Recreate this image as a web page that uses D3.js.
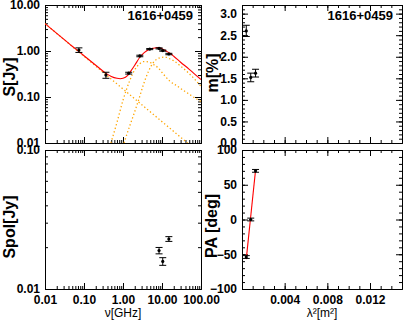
<!DOCTYPE html>
<html lang="en">
<head>
<meta charset="utf-8">
<script src="https://d3js.org/d3.v7.min.js"></script>
<style>
  body { margin: 0; background: #fff; }
  text { font-family: "Liberation Sans", Arial, Helvetica, sans-serif; }
</style>
</head>
<body>
<svg id="chart" width="407" height="323"></svg>
<script>
// ---- data ----
const source = "1616+0459";

// total flux density
const nuObs = [0.074, 0.365, 1.4, 2.7, 4.85, 8.4, 10.45, 15];
const sObs  = [1.05, 0.30, 0.33, 0.78, 1.10, 1.14, 1.02, 0.86];
const sErr  = [0.12, 0.045, 0.015, 0.03, 0.03, 0.03, 0.03, 0.03];

// fitted spectrum (red) and its components (orange dotted)
const fitNu = [0.01, 0.02, 0.05, 0.1, 0.2, 0.36, 0.5, 0.7, 0.85, 1.0, 1.3, 1.6, 2.0, 2.7, 3.5, 4.5, 6, 8, 10, 13, 16, 20, 30, 50, 70, 100];
const fitS  = [3.93, 2.42, 1.27, 0.79, 0.49, 0.33, 0.28, 0.255, 0.25, 0.255, 0.29, 0.37, 0.49, 0.73, 0.92, 1.07, 1.15, 1.19, 1.12, 0.99, 0.89, 0.77, 0.57, 0.40, 0.31, 0.24];
const plNu  = [0.01, 50];
const plS   = [3.93, 0.0093];
const c1Nu  = [0.49, 0.7, 1.0, 1.5, 2.0, 2.7, 3.5, 4.5, 6, 8, 11, 16, 24, 35, 50, 70, 100];
const c1S   = [0.01, 0.028, 0.085, 0.23, 0.39, 0.53, 0.59, 0.58, 0.51, 0.43, 0.31, 0.22, 0.175, 0.14, 0.115, 0.095, 0.08];
const c2Nu  = [1.06, 1.5, 2.0, 2.5, 3.3, 4.5, 6, 8, 10, 12, 15, 20, 30, 45, 70, 100];
const c2S   = [0.01, 0.024, 0.048, 0.085, 0.18, 0.36, 0.56, 0.69, 0.73, 0.74, 0.69, 0.61, 0.47, 0.35, 0.24, 0.17];

// polarisation
const nuPol   = [8.4, 10.45, 15];
const spol    = [0.0189, 0.0158, 0.0229];
const spolErr = [0.001, 0.001, 0.0009];
const lam2    = [0.00127, 0.00082, 0.0004];
const mPct    = [1.62, 1.52, 2.6];
const mErr    = [0.09, 0.1, 0.13];
const pa      = [70, 0, -54];
const paErr   = [2, 2, 2];
const paFitL2 = [0.0004, 0.00127];
const paFit   = [-57, 71];

// tick values
const nuTicks   = [0.01, 0.1, 1, 10, 100];
const sTicks    = [0.01, 0.1, 1, 10];
const spolTicks = [0.01, 0.1];
const mTicks    = [0, 0.5, 1, 1.5, 2, 2.5, 3];
const paTicks   = [-100, -50, 0, 50, 100];
const l2Ticks   = [0, 0.004, 0.008, 0.012];
const l2Labels  = [0.004, 0.008, 0.012];

const svg = d3.select("#chart");
const F = '"Liberation Sans", Arial, Helvetica, sans-serif';

// panel boxes
const L = {x0: 45, x1: 201}, R = {x0: 242, x1: 402};
const T = {y0: 5, y1: 143}, B = {y0: 150, y1: 289};

const xNu   = d3.scaleLog().domain([0.01, 100]).range([L.x0, L.x1]);
const yS    = d3.scaleLog().domain([0.01, 10]).range([T.y1, T.y0]);
const ySpol = d3.scaleLog().domain([0.01, 0.1]).range([B.y1, B.y0]);
const xL2   = d3.scaleLinear().domain([0, 0.015]).range([R.x0, R.x1]);
const yM    = d3.scaleLinear().domain([0, 3.2]).range([T.y1, T.y0]);
const yPA   = d3.scaleLinear().domain([-100, 100]).range([B.y1, B.y0]);

function logMinor(dom) {
  const out = [];
  for (let d = dom[0]; d < dom[1] * 0.999; d *= 10)
    for (let k = 2; k <= 9; k++) out.push(d * k);
  return out;
}
function linMinor(dom, step) {
  const out = [];
  const n = Math.round((dom[1] - dom[0]) / step);
  for (let i = 0; i <= n; i++) out.push(dom[0] + i * step);
  return out;
}

function axis(fn, scale, major, minor, tr, fmt, labels) {
  svg.append("g").attr("transform", tr)
    .call(fn(scale).tickValues(minor).tickSize(-3).tickSizeOuter(0).tickFormat(""));
  const g = svg.append("g").attr("transform", tr)
    .call(fn(scale).tickValues(major).tickSize(-6).tickSizeOuter(0)
      .tickPadding(fn === d3.axisBottom ? 6 : 5)
      .tickFormat(fmt ? (d => (labels && labels.indexOf(d) < 0) ? "" : fmt(d)) : ""));
  g.attr("font-family", F).attr("font-size", 12).attr("font-weight", "bold");
  g.selectAll("text").attr("fill", "#000");
}

function frame(xs, ys, box, xMaj, xMin, yMaj, yMin, xFmt, yFmt, xLab) {
  axis(d3.axisBottom, xs, xMaj, xMin, `translate(0,${box.y1})`, xFmt, xLab);
  axis(d3.axisTop, xs, xMaj, xMin, `translate(0,${box.y0})`, null);
  axis(d3.axisLeft, ys, yMaj, yMin, `translate(${box.x0},0)`, yFmt);
  axis(d3.axisRight, ys, yMaj, yMin, `translate(${box.x1},0)`, null);
}

const f2 = d3.format(".2f"), f1 = d3.format(".1f"), fd = d3.format("d"), f3 = d3.format(".3f");

frame(xNu, yS, {x0: L.x0, x1: L.x1, y0: T.y0, y1: T.y1}, nuTicks, logMinor([0.01, 100]), sTicks, logMinor([0.01, 10]), null, f2);
frame(xNu, ySpol, {x0: L.x0, x1: L.x1, y0: B.y0, y1: B.y1}, nuTicks, logMinor([0.01, 100]), spolTicks, logMinor([0.01, 0.1]), f2, f2);
frame(xL2, yM, {x0: R.x0, x1: R.x1, y0: T.y0, y1: T.y1}, l2Ticks, linMinor([0, 0.015], 0.001), mTicks, linMinor([0, 3.2], 0.1), null, f1);
frame(xL2, yPA, {x0: R.x0, x1: R.x1, y0: B.y0, y1: B.y1}, l2Ticks, linMinor([0, 0.015], 0.001), paTicks, linMinor([-100, 100], 10), f3, fd, l2Labels);

// clip for spectrum panel
svg.append("clipPath").attr("id", "clipTL").append("rect")
  .attr("x", L.x0).attr("y", T.y0).attr("width", L.x1 - L.x0).attr("height", T.y1 - T.y0);

const specLine = d3.line().x(d => xNu(d[0])).y(d => yS(d[1])).curve(d3.curveMonotoneX);
const zip = (a, b) => a.map((v, i) => [v, b[i]]);

const gs = svg.append("g").attr("clip-path", "url(#clipTL)");
[[plNu, plS], [c1Nu, c1S], [c2Nu, c2S]].forEach(([n, s]) => {
  gs.append("path").attr("d", specLine(zip(n, s)))
    .attr("fill", "none").attr("stroke", "#ffa500").attr("stroke-width", 1.3)
    .attr("stroke-dasharray", "1.3,2.4");
});
gs.append("path").attr("d", specLine(zip(fitNu, fitS)))
  .attr("fill", "none").attr("stroke", "#ff0000").attr("stroke-width", 1.1);

// PA fit line
svg.append("line")
  .attr("x1", xL2(paFitL2[0])).attr("y1", yPA(paFit[0]))
  .attr("x2", xL2(paFitL2[1])).attr("y2", yPA(paFit[1]))
  .attr("stroke", "#ff0000").attr("stroke-width", 1.1);

function errPoints(xs, ys, xv, yv, ev) {
  const g = svg.append("g");
  xv.forEach((xd, i) => {
    const x = xs(xd), yl = ys(yv[i] - ev[i]), yh = ys(yv[i] + ev[i]);
    g.append("line").attr("x1", x).attr("x2", x).attr("y1", yl).attr("y2", yh).attr("stroke", "#000");
    [yl, yh].forEach(y => g.append("line").attr("x1", x - 3.5).attr("x2", x + 3.5)
      .attr("y1", y).attr("y2", y).attr("stroke", "#000"));
    g.append("circle").attr("cx", x).attr("cy", ys(yv[i])).attr("r", 1.6).attr("fill", "#000");
  });
}
errPoints(xNu, yS, nuObs, sObs, sErr);
errPoints(xNu, ySpol, nuPol, spol, spolErr);
errPoints(xL2, yM, lam2, mPct, mErr);
errPoints(xL2, yPA, lam2, pa, paErr);

// source names
[L.x1 - 8, R.x1 - 9].forEach(x => {
  svg.append("text").attr("x", x).attr("y", 20).attr("text-anchor", "end")
    .attr("font-size", 13).attr("font-weight", "bold").text(source);
});

// axis titles
function yTitle(x, y, t) {
  svg.append("text").attr("transform", `translate(${x},${y}) rotate(-90)`)
    .attr("text-anchor", "middle").attr("dy", "0.35em")
    .attr("font-size", 16).attr("font-weight", "bold").text(t);
}
yTitle(9, 77, "S[Jy]");
yTitle(212, 73, "m[%]");
yTitle(9, 227, "Spol[Jy]");
yTitle(211, 226, "PA [deg]");

svg.append("text").attr("x", (L.x0 + L.x1) / 2).attr("y", 317).attr("text-anchor", "middle")
  .attr("font-size", 12).text("ν[GHz]");
svg.append("text").attr("x", (R.x0 + R.x1) / 2).attr("y", 317).attr("text-anchor", "middle")
  .attr("font-size", 12).text("λ²[m²]");
</script>
</body>
</html>
